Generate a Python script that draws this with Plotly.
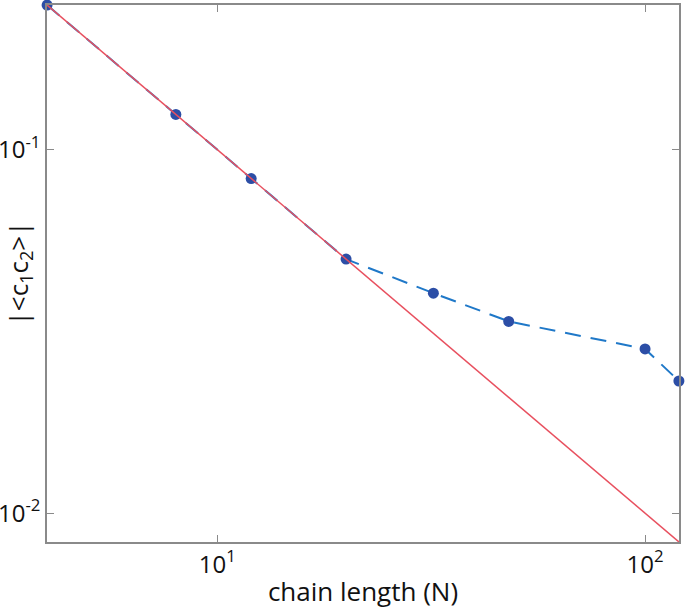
import math
import plotly.graph_objects as go

# Data
chain_length = [4, 8, 12, 20, 32, 48, 100, 120]
corr_values = [0.25, 0.125, 0.0833, 0.05, 0.0403, 0.0337, 0.0283, 0.0231]

# Reference power-law line (1/N) endpoints
ref_x = [4, 120]
ref_y = [0.25, 1 / 120]

x_ticks = [10, 100]
x_ticktext = ["10<sup>1</sup>", "10<sup>2</sup>"]
y_ticks = [0.01, 0.1]
y_ticktext = ["10<sup>-2</sup>", "10<sup>-1</sup>"]

font_family = "Open Sans, Lato, sans-serif"

fig = go.Figure()

fig.add_trace(go.Scatter(
    x=chain_length, y=corr_values, mode="lines",
    line=dict(color="#1f78c8", width=2, dash="16px,10px"),
    showlegend=False, hoverinfo="skip", cliponaxis=False))

fig.add_trace(go.Scatter(
    x=chain_length, y=corr_values, mode="markers",
    marker=dict(color="#2c4ea6", size=11),
    showlegend=False, cliponaxis=False))

fig.add_trace(go.Scatter(
    x=ref_x, y=ref_y, mode="lines",
    line=dict(color="#e8505f", width=1.5),
    showlegend=False, hoverinfo="skip", cliponaxis=False))

axis_common = dict(
    showgrid=False, zeroline=False, showline=True, linecolor="#8a8a8a",
    linewidth=1.5, mirror="ticks", ticks="inside", ticklen=7,
    tickcolor="#8a8a8a", tickwidth=1.2, automargin=False,
    tickfont=dict(family=font_family, size=24, color="#111111"),
)

pad = 2e-4
fig.update_xaxes(
    type="log",
    range=[math.log10(min(chain_length)) - pad, math.log10(max(chain_length)) + pad],
    tickvals=x_ticks, ticktext=x_ticktext,
    title=dict(text="chain length (N)", standoff=4,
               font=dict(family=font_family, size=26, color="#111111")),
    **axis_common)

fig.update_yaxes(
    type="log",
    range=[math.log10(min(ref_y)) - pad, math.log10(max(ref_y)) + pad],
    tickvals=y_ticks, ticktext=y_ticktext,
    title=dict(text="|&lt;c<sub>1</sub>c<sub>2</sub>&gt;|", standoff=2,
               font=dict(family=font_family, size=26, color="#111111")),
    **axis_common)

fig.update_layout(
    width=685, height=611,
    margin=dict(l=47, r=6, t=5, b=69),
    plot_bgcolor="white", paper_bgcolor="white",
)

fig.write_html("out.html",
               config={"displayModeBar": False},
               post_script="document.body.style.margin='0px';document.body.style.padding='0px';")
